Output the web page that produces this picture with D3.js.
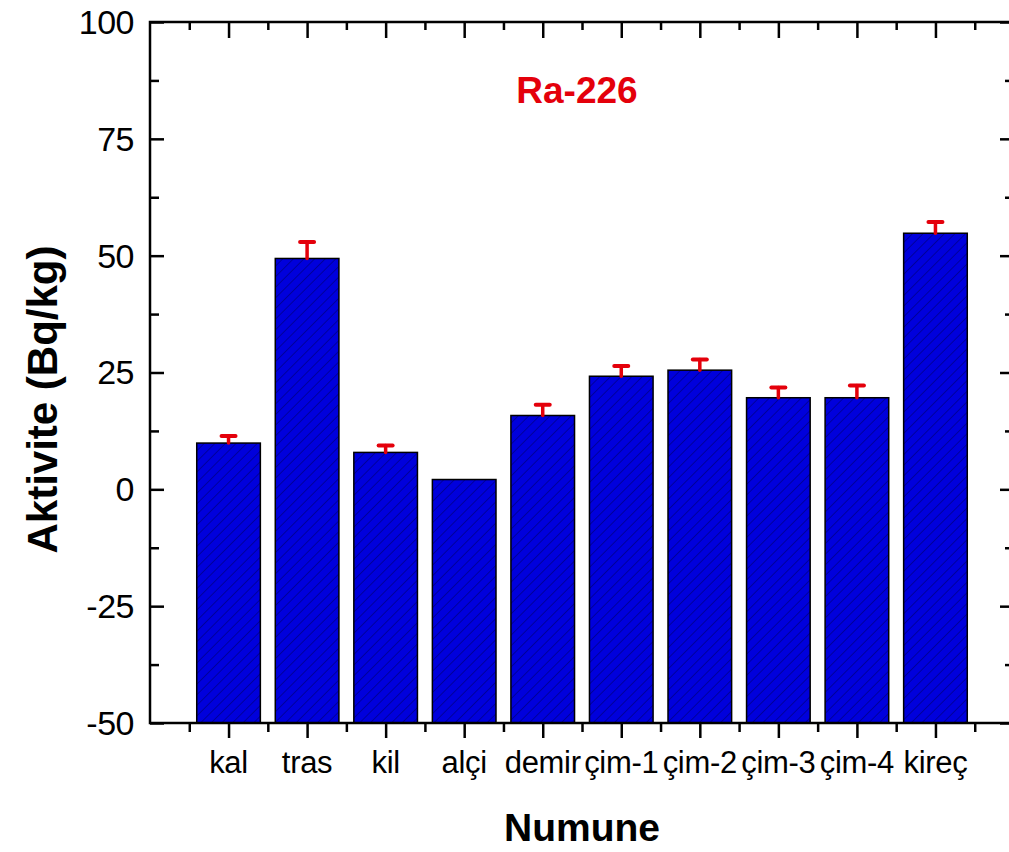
<!DOCTYPE html>
<html>
<head>
<meta charset="utf-8">
<script src="https://cdn.jsdelivr.net/npm/d3@7"></script>
<style>
  html, body { margin: 0; padding: 0; background: #fff; }
  svg { display: block; font-family: "Liberation Sans", Arial, sans-serif; }
</style>
</head>
<body>
<svg id="chart" width="1009" height="852"></svg>
<script>
// data
const categories = ["kal", "tras", "kil", "alçi", "demir", "çim-1", "çim-2", "çim-3", "çim-4", "kireç"];
const values = [9.9, 49.4, 7.9, 2.1, 15.8, 24.2, 25.5, 19.6, 19.6, 54.8];
const errors = [1.5, 3.5, 1.5, 0, 2.3, 2.2, 2.3, 2.2, 2.6, 2.4];
const yTicks = [-50, -25, 0, 25, 50, 75, 100];
const yMinorTicks = [-37.5, -12.5, 12.5, 37.5, 62.5, 87.5];

const svg = d3.select("#chart");

/* Set up */
/* ====== */
const plotLeft = 150, plotRight = 1014, plotTop = 22, plotBottom = 723;

const x = d3.scaleLinear().domain([0, categories.length + 1]).range([plotLeft, plotRight]);
const y = d3.scaleLinear().domain([-50, 100]).range([plotBottom, plotTop]);
const step = x(1) - x(0);
const barW = step * 0.81;

const catPos = categories.map((c, i) => i + 1);
const catMinor = d3.range(0.5, categories.length + 1, 1);

// hatch pattern for the bars
const defs = svg.append("defs");
const pat = defs.append("pattern")
  .attr("id", "hatch")
  .attr("patternUnits", "userSpaceOnUse")
  .attr("width", 7.5)
  .attr("height", 7.5)
  .attr("patternTransform", "rotate(45)");
pat.append("rect").attr("width", 7.5).attr("height", 7.5).attr("fill", "#0000dc");
pat.append("line")
  .attr("x1", 0).attr("y1", 0).attr("x2", 0).attr("y2", 7.5)
  .attr("stroke", "#000060").attr("stroke-width", 1);

/* Bars */
/* ==== */
const bars = svg.append("g");
bars.selectAll("rect")
  .data(values)
  .join("rect")
  .attr("x", (d, i) => x(i + 1) - barW / 2)
  .attr("width", barW)
  .attr("y", d => y(Math.max(d, -50)))
  .attr("height", d => y(-50) - y(d))
  .attr("fill", "url(#hatch)")
  .attr("stroke", "#000")
  .attr("stroke-width", 1.5);

// error bars (plus side only)
const err = svg.append("g").attr("stroke", "#e4000b").attr("stroke-linecap", "round");
values.forEach((v, i) => {
  if (!errors[i]) return;
  const cx = x(i + 1);
  err.append("line")
    .attr("x1", cx).attr("x2", cx)
    .attr("y1", y(v)).attr("y2", y(v + errors[i]))
    .attr("stroke-width", 3.5);
  err.append("line")
    .attr("x1", cx - 7).attr("x2", cx + 7)
    .attr("y1", y(v + errors[i])).attr("y2", y(v + errors[i]))
    .attr("stroke-width", 4);
});

/* Axes */
/* ==== */
const axisW = 2.5;

// left axis, ticks inward
const gl = svg.append("g").attr("transform", `translate(${plotLeft},0)`);
gl.call(d3.axisRight(y).tickValues(yTicks).tickSize(14).tickFormat(""));
gl.append("g").call(d3.axisRight(y).tickValues(yMinorTicks).tickSize(9).tickFormat(""));
gl.selectAll(".domain").remove();
gl.selectAll("line").attr("stroke", "#000").attr("stroke-width", axisW);
gl.selectAll(".ylab")
  .data(yTicks)
  .join("text")
  .attr("class", "ylab")
  .attr("x", -16)
  .attr("y", d => y(d))
  .attr("dy", "0.35em")
  .attr("text-anchor", "end")
  .attr("font-size", 34)
  .attr("letter-spacing", -0.5)
  .attr("fill", "#000")
  .text(d => d);

// right axis, ticks inward
const gr = svg.append("g").attr("transform", `translate(${plotRight},0)`);
gr.call(d3.axisLeft(y).tickValues(yTicks).tickSize(14).tickFormat(""));
gr.append("g").call(d3.axisLeft(y).tickValues(yMinorTicks).tickSize(9).tickFormat(""));
gr.selectAll(".domain").remove();
gr.selectAll("line").attr("stroke", "#000").attr("stroke-width", axisW);

// bottom axis, ticks outward
const gb = svg.append("g").attr("transform", `translate(0,${plotBottom})`);
gb.call(d3.axisBottom(x).tickValues(catPos).tickSize(15).tickFormat(""));
gb.append("g").call(d3.axisBottom(x).tickValues(catMinor).tickSize(9).tickFormat(""));
gb.selectAll(".domain").remove();
gb.selectAll("line").attr("stroke", "#000").attr("stroke-width", axisW);
gb.selectAll(".xlab")
  .data(categories)
  .join("text")
  .attr("class", "xlab")
  .attr("x", (d, i) => x(i + 1))
  .attr("y", 50)
  .attr("text-anchor", "middle")
  .attr("font-size", 31)
  .attr("letter-spacing", -0.3)
  .attr("fill", "#000")
  .text(d => d);

// top axis, ticks inward
const gt = svg.append("g").attr("transform", `translate(0,${plotTop})`);
gt.call(d3.axisBottom(x).tickValues(catPos).tickSize(16).tickFormat(""));
gt.append("g").call(d3.axisBottom(x).tickValues(catMinor).tickSize(8).tickFormat(""));
gt.selectAll(".domain").remove();
gt.selectAll("line").attr("stroke", "#000").attr("stroke-width", axisW);

// frame
svg.append("rect")
  .attr("x", plotLeft).attr("y", plotTop)
  .attr("width", plotRight - plotLeft).attr("height", plotBottom - plotTop)
  .attr("fill", "none")
  .attr("stroke", "#000")
  .attr("stroke-width", axisW);

/* Titles */
/* ====== */
svg.append("text")
  .attr("x", 577).attr("y", 103)
  .attr("text-anchor", "middle")
  .attr("font-size", 37)
  .attr("font-weight", "bold")
  .attr("fill", "#e4000b")
  .text("Ra-226");

svg.append("text")
  .attr("x", (plotLeft + plotRight) / 2).attr("y", 841)
  .attr("text-anchor", "middle")
  .attr("font-size", 39)
  .attr("font-weight", "bold")
  .attr("fill", "#000")
  .text("Numune");

svg.append("text")
  .attr("transform", `translate(57,${(plotTop + plotBottom) / 2 + 27}) rotate(-90)`)
  .attr("text-anchor", "middle")
  .attr("font-size", 42)
  .attr("font-weight", "bold")
  .attr("fill", "#000")
  .text("Aktivite (Bq/kg)");
</script>
</body>
</html>
